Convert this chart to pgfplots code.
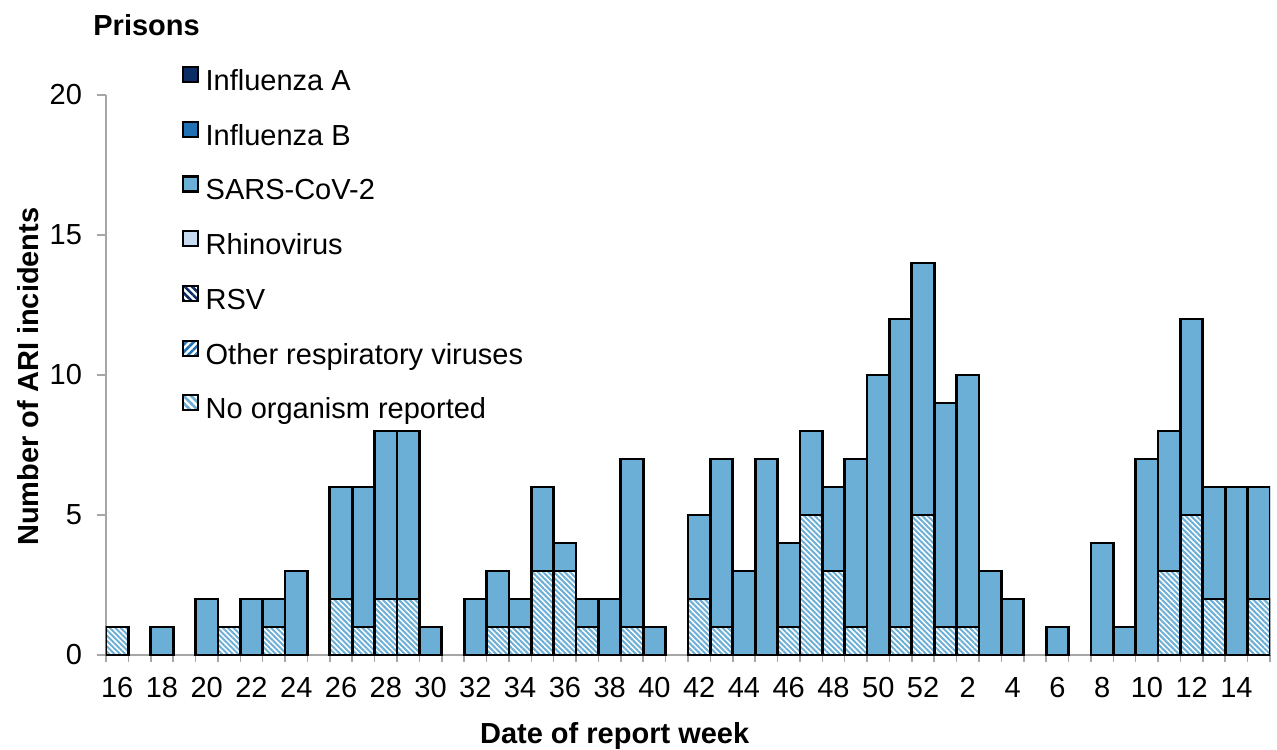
\documentclass[border=0pt]{standalone}
\usepackage{fontspec}
\setmainfont{Liberation Sans}
\usepackage{pgfplots}
\usepackage{pgfplotstable}
\pgfplotsset{compat=1.18}
\usetikzlibrary{patterns.meta}

\definecolor{fluA}{HTML}{0B2C64}
\definecolor{fluB}{HTML}{2171B5}
\definecolor{sars}{HTML}{6BAED6}
\definecolor{rhino}{HTML}{C6DBEF}
\definecolor{axgray}{HTML}{A6A6A6}

% idx = position of the week (16..52, then 1..15); total = all ARI incidents; noorg = no organism reported
% SARS-CoV-2 = total - noorg (drawn as the full bar, overdrawn by the no-organism part)
\pgfplotstableread{
idx week total noorg
0 16 1 1
1 17 0 0
2 18 1 0
3 19 0 0
4 20 2 0
5 21 1 1
6 22 2 0
7 23 2 1
8 24 3 0
9 25 0 0
10 26 6 2
11 27 6 1
12 28 8 2
13 29 8 2
14 30 1 0
15 31 0 0
16 32 2 0
17 33 3 1
18 34 2 1
19 35 6 3
20 36 4 3
21 37 2 1
22 38 2 0
23 39 7 1
24 40 1 0
25 41 0 0
26 42 5 2
27 43 7 1
28 44 3 0
29 45 7 0
30 46 4 1
31 47 8 5
32 48 6 3
33 49 7 1
34 50 10 0
35 51 12 1
36 52 14 5
37 1 9 1
38 2 10 1
39 3 3 0
40 4 2 0
41 5 0 0
42 6 1 0
43 7 0 0
44 8 4 0
45 9 1 0
46 10 7 0
47 11 8 3
48 12 12 5
49 13 6 2
50 14 6 0
51 15 6 2
}\prisons

\newcommand{\chartfont}{\fontsize{14.5}{17.4}\selectfont}

\begin{document}
\begin{tikzpicture}
\useasboundingbox (-53pt,-47pt) rectangle (585.5pt,327.5pt);
\begin{axis}[
  at={(0,0)}, anchor=south west,
  scale only axis, width=582pt, height=280pt,
  font=\chartfont,
  /pgf/number format/assume math mode=true,
  xmin=-0.5, xmax=51.5, ymin=0, ymax=20,
  axis x line*=bottom, axis y line*=left,
  axis line style={draw=axgray, line width=0.8pt, -},
  tick align=outside,
  xtick={0,2,...,50},
  xticklabels={16,18,20,22,24,26,28,30,32,34,36,38,40,42,44,46,48,50,52,2,4,6,8,10,12,14},
  major x tick style={draw=none},
  minor xtick={-0.5,0.5,...,51.5},
  minor tick length=3.5pt,
  minor x tick style={draw=axgray, line width=0.8pt},
  ytick={0,5,10,15,20},
  major tick length=4.5pt,
  y tick style={draw=axgray, line width=0.8pt},
  xticklabel style={yshift=-3pt},
  yticklabel style={xshift=-4pt},
  xlabel={\bfseries Date of report week},
  xlabel style={at={(axis description cs:0.437,0)}, anchor=north, yshift=-30pt},
  ylabel={\bfseries Number of ARI incidents},
  ylabel style={at={(axis description cs:-0.067,0.497)}, anchor=center},
  ybar, bar width=1,
  restrict y to domain=0.5:100,
  legend cell align=left,
  legend image code/.code={\draw[#1, draw=black, line width=1.1pt] (0pt,0.3pt) rectangle (7.5pt,7.8pt);},
  legend style={at={(rel axis cs:0.065,1.052)}, anchor=north west, draw=none, fill=none,
    inner sep=0pt, column sep=3pt, row sep=11.9pt,
    nodes={inner sep=0pt, text height=10.9pt, text depth=3.2pt}},
]
\addlegendimage{fill=fluA}
\addlegendentry{Influenza A}
\addlegendimage{fill=fluB}
\addlegendentry{Influenza B}
\addlegendimage{fill=sars}
\addlegendentry{SARS-CoV-2}
\addlegendimage{fill=rhino}
\addlegendentry{Rhinovirus}
\addlegendimage{fill=white, postaction={pattern={Lines[angle=-45,distance=2.6pt,line width=1.3pt]}, pattern color=fluA}}
\addlegendentry{RSV}
\addlegendimage{fill=white, postaction={pattern={Lines[angle=45,distance=2.6pt,line width=1.3pt]}, pattern color=fluB}}
\addlegendentry{Other respiratory viruses}
\addlegendimage{fill=white, postaction={pattern={Lines[angle=-45,distance=2.6pt,line width=1.3pt]}, pattern color=sars}}
\addlegendentry{No organism reported}

\addplot[forget plot, bar shift=0pt, fill=sars, draw=black, line width=1.4pt] table[x=idx, y=total] {\prisons};
\addplot[forget plot, bar shift=0pt, fill=white, draw=black, line width=1.4pt,
  postaction={pattern={Lines[angle=-45,distance=1.9pt,line width=1pt]}, pattern color=sars}]
  table[x=idx, y=noorg] {\prisons};
\end{axis}
\node[anchor=base west, inner sep=0pt, font=\chartfont\bfseries] at (-6.5pt,309.5pt) {Prisons};
\end{tikzpicture}
\end{document}
